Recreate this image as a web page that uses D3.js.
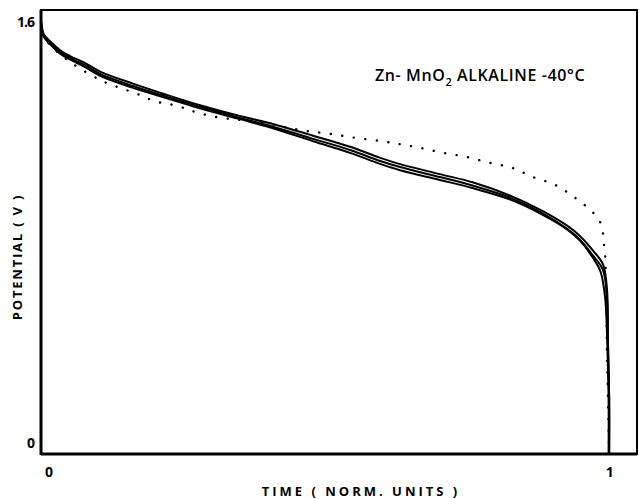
<!DOCTYPE html>
<html>
<head>
<meta charset="utf-8">
<script src="https://cdn.jsdelivr.net/npm/d3@7"></script>
<style>
  body { margin: 0; background: #fff; }
  text { font-family: "Open Sans", "DejaVu Sans", sans-serif; fill: #000; }
</style>
</head>
<body>
<div id="graph"></div>
<script>
// valores (tempo normalizado, potencial em V)
const xTicks = [0, 1];
const yTicks = [0, 1.6];
const yTickLabels = ["0", "1.6"];

// curva solida 1
const timeA = [0, 0.002, 0.005, 0.016, 0.033, 0.051, 0.077, 0.104, 0.162, 0.222, 0.280, 0.350, 0.398, 0.479, 0.544, 0.597, 0.632, 0.702, 0.761, 0.826, 0.879, 0.926, 0.949, 0.972, 0.989, 0.996, 0.998, 1.0, 1.0];
const potA  = [1.601, 1.570, 1.548, 1.521, 1.487, 1.464, 1.437, 1.403, 1.357, 1.316, 1.278, 1.236, 1.209, 1.156, 1.114, 1.072, 1.049, 1.011, 0.978, 0.932, 0.878, 0.814, 0.772, 0.711, 0.658, 0.555, 0.354, 0.163, -0.042];

// curva solida 2 (um pouco acima no meio, mais aberta no joelho)
const timeB = [0, 0.002, 0.005, 0.016, 0.033, 0.051, 0.077, 0.104, 0.162, 0.222, 0.280, 0.350, 0.398, 0.479, 0.544, 0.597, 0.632, 0.702, 0.761, 0.826, 0.879, 0.926, 0.949, 0.972, 0.989, 0.996, 0.998, 1.0, 1.0];
const potB  = [1.601, 1.575, 1.553, 1.527, 1.494, 1.471, 1.445, 1.412, 1.366, 1.323, 1.284, 1.243, 1.218, 1.168, 1.126, 1.084, 1.060, 1.022, 0.990, 0.940, 0.886, 0.826, 0.786, 0.730, 0.680, 0.590, 0.380, 0.170, -0.042];

// curva solida 3 (um pouco abaixo no meio)
const timeC = [0, 0.002, 0.005, 0.016, 0.033, 0.051, 0.077, 0.104, 0.162, 0.222, 0.280, 0.350, 0.398, 0.479, 0.544, 0.597, 0.632, 0.702, 0.761, 0.826, 0.879, 0.926, 0.949, 0.972, 0.985, 0.993, 0.997, 0.999, 0.999];
const potC  = [1.601, 1.566, 1.543, 1.516, 1.481, 1.458, 1.430, 1.396, 1.350, 1.310, 1.272, 1.231, 1.203, 1.147, 1.103, 1.061, 1.037, 1.000, 0.968, 0.925, 0.872, 0.812, 0.768, 0.702, 0.650, 0.550, 0.354, 0.163, -0.042];

// curva pontilhada
const timeD = [0, 0.004, 0.016, 0.051, 0.104, 0.125, 0.144, 0.165, 0.185, 0.204, 0.224, 0.245, 0.266, 0.306, 0.350, 0.386, 0.426, 0.467, 0.509, 0.553, 0.597, 0.629, 0.667, 0.708, 0.750, 0.790, 0.829, 0.866, 0.905, 0.940, 0.972, 0.984, 0.989, 0.991, 0.993, 0.995, 0.996, 0.998, 1.0];
const potD  = [1.601, 1.555, 1.513, 1.449, 1.380, 1.361, 1.346, 1.331, 1.312, 1.297, 1.289, 1.278, 1.262, 1.240, 1.228, 1.221, 1.202, 1.186, 1.175, 1.160, 1.148, 1.137, 1.122, 1.103, 1.087, 1.065, 1.046, 1.011, 0.981, 0.932, 0.875, 0.840, 0.798, 0.753, 0.711, 0.544, 0.354, 0.163, -0.042];

const width = 639, height = 499;
const frame = { left: 41, right: 637, top: 10, bottom: 454 };

const svg = d3.select("#graph")
  .append("svg")
  .attr("width", width)
  .attr("height", height);

const xScale = d3.scaleLinear()
  .domain([0, 1.049])
  .range([frame.left, frame.right]);

const yScale = d3.scaleLinear()
  .domain([-0.042, 1.646])
  .range([frame.bottom, frame.top]);

const line = d3.line()
  .x(d => xScale(d[0]))
  .y(d => yScale(d[1]))
  .curve(d3.curveCatmullRom);

// moldura
svg.append("rect")
  .attr("x", frame.left)
  .attr("y", frame.top)
  .attr("width", frame.right - frame.left)
  .attr("height", frame.bottom - frame.top)
  .attr("fill", "none")
  .attr("stroke", "#000")
  .attr("stroke-width", 2);
svg.append("line")
  .attr("x1", frame.left).attr("x2", frame.left)
  .attr("y1", frame.top).attr("y2", frame.bottom + 1)
  .attr("stroke", "#000").attr("stroke-width", 3);
svg.append("line")
  .attr("x1", frame.left).attr("x2", frame.right)
  .attr("y1", frame.bottom).attr("y2", frame.bottom)
  .attr("stroke", "#000").attr("stroke-width", 3);

// curvas
const solids = [[timeA, potA], [timeB, potB], [timeC, potC]];
solids.forEach(s => {
  svg.append("path")
    .datum(s[0].map((t, i) => [t, s[1][i]]))
    .attr("fill", "none")
    .attr("stroke", "#000")
    .attr("stroke-width", 2)
    .attr("d", line);
});

svg.append("path")
  .datum(timeD.map((t, i) => [t, potD[i]]))
  .attr("fill", "none")
  .attr("stroke", "#000")
  .attr("stroke-width", 2.4)
  .attr("stroke-linecap", "round")
  .attr("stroke-dasharray", "0.1 11.5")
  .attr("d", line);

// eixos (so rotulos)
const xAxis = svg.append("g")
  .attr("transform", `translate(0, ${frame.bottom + 10})`)
  .call(d3.axisBottom(xScale).tickValues(xTicks).tickSize(0).tickFormat(d3.format("d")));
xAxis.select(".domain").remove();
xAxis.selectAll("text")
  .attr("font-size", "14px")
  .attr("font-weight", "bold")
  .style("font-family", "'Open Sans', sans-serif");
xAxis.selectAll(".tick").filter(d => d === 0)
  .attr("transform", `translate(${xScale(0) + 8},0)`);

const yAxis = svg.append("g")
  .attr("transform", `translate(${frame.left - 4}, 0)`)
  .call(d3.axisLeft(yScale).tickValues(yTicks).tickSize(0)
    .tickFormat((d, i) => yTickLabels[i]));
yAxis.select(".domain").remove();
yAxis.selectAll("text")
  .attr("font-size", "14px")
  .attr("font-weight", "bold")
  .style("font-family", "'Open Sans', sans-serif")
  .style("letter-spacing", "-1px");

// titulos dos eixos
svg.append("text")
  .attr("x", 361)
  .attr("y", 496)
  .attr("text-anchor", "middle")
  .attr("font-size", "13px")
  .attr("font-weight", "bold")
  .style("letter-spacing", "3px")
  .text("TIME ( NORM. UNITS )");

svg.append("text")
  .attr("transform", "translate(22, 257) rotate(-90)")
  .attr("text-anchor", "middle")
  .attr("font-size", "13px")
  .attr("font-weight", "bold")
  .style("letter-spacing", "1.8px")
  .text("POTENTIAL ( V )");

// legenda do grafico
const title = svg.append("text")
  .attr("x", 375)
  .attr("y", 81)
  .attr("font-size", "16px")
  .attr("font-weight", "600")
  .style("letter-spacing", "0.6px");
title.append("tspan").text("Zn- MnO");
title.append("tspan").attr("font-size", "11px").attr("dy", 5).text("2");
title.append("tspan").attr("dy", -5).text("  ALKALINE -40°C");
</script>
</body>
</html>
